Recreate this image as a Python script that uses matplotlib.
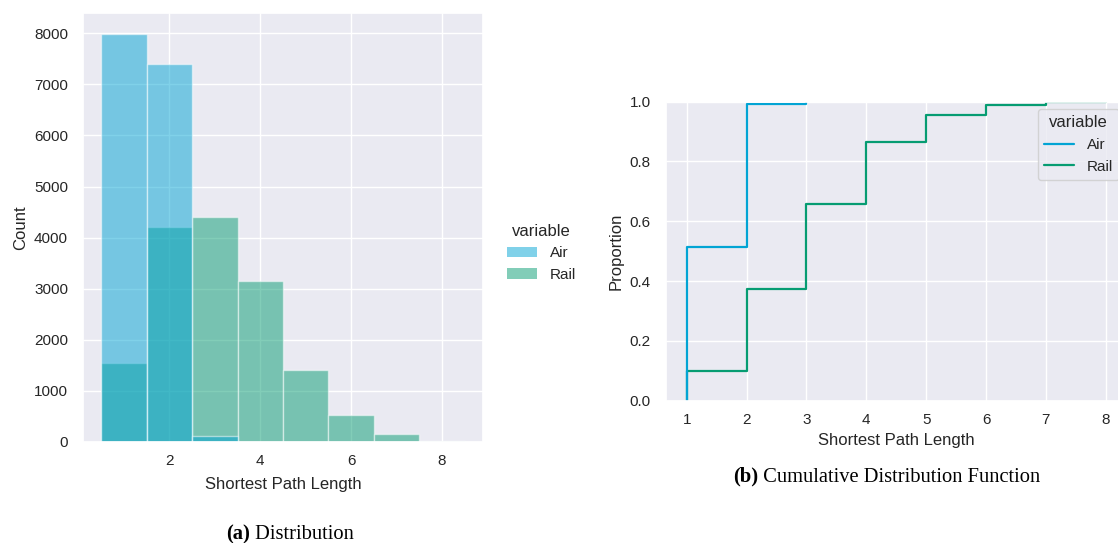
import matplotlib
matplotlib.use("Agg")
import matplotlib.pyplot as plt
import numpy as np
import seaborn as sns
from matplotlib.patches import Patch
from matplotlib.lines import Line2D

# shortest path lengths and how many pairs have each length
path_len = [1, 2, 3, 4, 5, 6, 7, 8]
air_count = [7985, 7400, 105, 0, 0, 0, 0, 0]
rail_count = [1545, 4205, 4410, 3155, 1410, 515, 155, 20]
series = ["Air", "Rail"]

air_col = "#02a4d4"
rail_col = "#069c72"

sns.set_theme(style="darkgrid", context="notebook")
plt.rcParams["font.family"] = ["Liberation Sans", "DejaVu Sans"]
plt.rcParams["text.color"] = ".15"
plt.rcParams["axes.labelcolor"] = ".15"

W, H = 1118, 543
fig = plt.figure(figsize=(W / 100, H / 100), dpi=100)


def box(l, t, r, b):
    # pixel box -> figure fraction
    return [l / W, 1 - b / H, (r - l) / W, (b - t) / H]


# ---------- (a) histogram ----------
ax1 = fig.add_axes(box(83, 13, 483, 441.7))
ax1.bar(path_len, rail_count, width=1, color=rail_col, alpha=0.5,
        edgecolor="white", linewidth=1)
ax1.bar(path_len, air_count, width=1, color=air_col, alpha=0.5,
        edgecolor="white", linewidth=1)
ax1.set_xlim(0.1, 8.9)
ax1.set_ylim(0, 8400)
ax1.set_xticks([2, 4, 6, 8])
ax1.set_yticks(np.arange(0, 8001, 1000))
ax1.set_xlabel("Shortest Path Length", fontsize=12, labelpad=6)
ax1.set_ylabel("Count", fontsize=12)
ax1.tick_params(axis="y", length=0, pad=10.8, labelsize=11)
ax1.tick_params(axis="x", length=0, pad=9, labelsize=11)

hist_handles = [Patch(facecolor=air_col, alpha=0.5, edgecolor="none"),
                Patch(facecolor=rail_col, alpha=0.5, edgecolor="none")]
fig.legend(hist_handles, series, title="variable", frameon=False,
           loc="upper left", bbox_to_anchor=(493 / W, 1 - 210 / H),
           fontsize=11, title_fontsize=12)

# ---------- (b) ECDF ----------
ax2 = fig.add_axes(box(665.7, 101.7, 1126.7, 400.7))
for name, counts, col in [("Rail", rail_count, rail_col), ("Air", air_count, air_col)]:
    c = np.array(counts, dtype=float)
    last = np.nonzero(c)[0].max() + 1
    xs = np.array(path_len[:last])
    ys = np.cumsum(c[:last]) / c.sum()
    ax2.step(np.r_[xs[0], xs], np.r_[0, ys], where="post", color=col, lw=1.6)
ax2.set_xlim(0.65, 8.35)
ax2.set_ylim(0, 1)
ax2.set_xticks(path_len)
ax2.set_yticks(np.arange(0, 1.01, 0.2))
ax2.set_xlabel("Shortest Path Length", fontsize=12)
ax2.set_ylabel("Proportion", fontsize=12)
ax2.tick_params(axis="y", length=0, pad=10.8, labelsize=11)
ax2.tick_params(axis="x", length=0, pad=9, labelsize=11)

line_handles = [Line2D([0], [0], color=air_col, lw=1.6),
                Line2D([0], [0], color=rail_col, lw=1.6)]
ax2.legend(line_handles, series, title="variable", loc="upper right",
           fontsize=11, title_fontsize=12)

# ---------- captions ----------
serif = "Liberation Serif"
for lab, rest, x, y in [("(a)", " Distribution", 225.7, 539),
                        ("(b)", " Cumulative Distribution Function", 733.3, 481.7)]:
    t = fig.text(x / W, 1 - y / H, lab, family=serif, fontweight="bold",
                 fontsize=14.8, color="black", ha="left", va="baseline")
    ax1.annotate(rest, xy=(1, 0), xycoords=t, family=serif, fontsize=14.8,
                 color="black", ha="left", va="bottom", annotation_clip=False)

fig.savefig("out.png", dpi=100)
